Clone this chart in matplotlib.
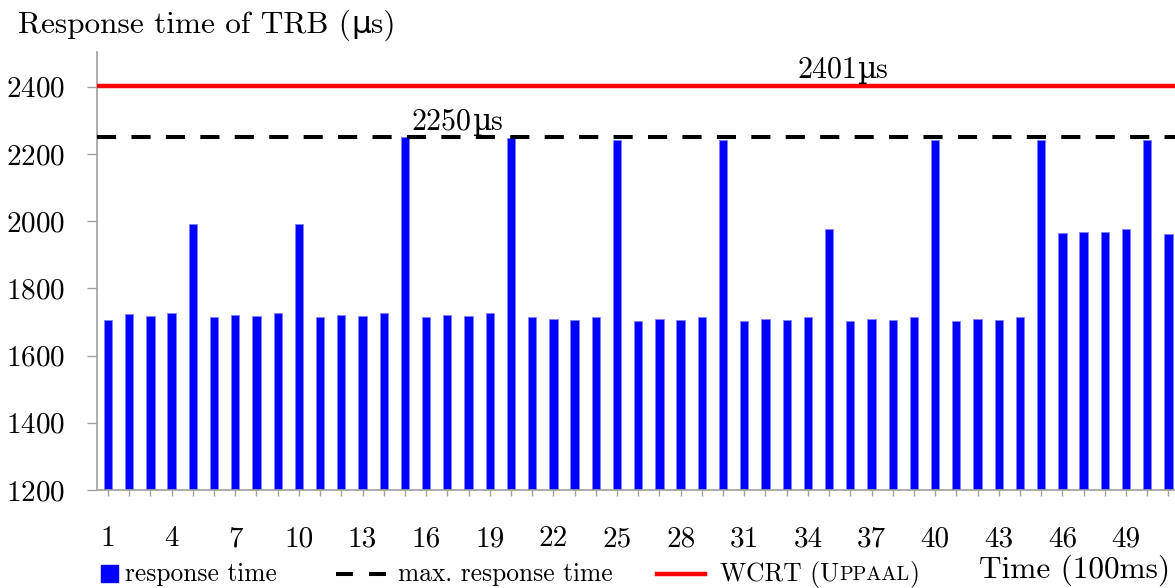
import numpy as np
import matplotlib
matplotlib.use("Agg")
import matplotlib.pyplot as plt
from matplotlib.lines import Line2D
from matplotlib.patches import Rectangle

plt.rcParams['font.family'] = ['cmr10', 'DejaVu Serif']
plt.rcParams['axes.formatter.use_mathtext'] = True

# response time per sample (µs)
t = np.arange(1, 52)
resp = np.array([
    1706, 1723, 1718, 1727, 1992, 1715, 1721, 1717, 1727, 1992,
    1714, 1720, 1718, 1727, 2250, 1715, 1721, 1718, 1727, 2246,
    1715, 1708, 1705, 1714, 2240, 1702, 1708, 1705, 1714, 2241,
    1702, 1708, 1705, 1714, 1976, 1702, 1708, 1705, 1714, 2240,
    1702, 1708, 1705, 1714, 2240, 1964, 1968, 1968, 1976, 2240,
    1963])
max_resp = 2250
wcrt = 2401
xtick_labels = [1, 4, 7, 10, 13, 16, 19, 22, 25, 28, 31, 34, 37, 40, 43, 46, 49]
yticks = [1200, 1400, 1600, 1800, 2000, 2200, 2400]

W, H = 1175, 588
fig = plt.figure(figsize=(W / 100, H / 100), dpi=100)
ax = fig.add_axes([97 / W, 1 - 490 / H, 1 - 97 / W, 438 / H])

ax.bar(t, resp - 1200, bottom=1200, width=0.39, color='#0000ff',
       edgecolor='#8080ff', linewidth=0.6, zorder=2)
ax.axhline(max_resp, color='black', lw=2.9, dashes=(4.75, 3.8), zorder=3)
ax.axhline(wcrt, color='#ff0000', lw=3.2, zorder=3)

ax.set_xlim(0.481, 51.31)
ax.set_ylim(1200, 2503)
ax.set_xticks(t)
ax.set_xticklabels([str(v) if v in xtick_labels else '' for v in t])
ax.set_yticks(yticks)
for s in ['top', 'right']:
    ax.spines[s].set_visible(False)
for s in ['left', 'bottom']:
    ax.spines[s].set_color('#a0a0a0')
    ax.spines[s].set_linewidth(1.2)
ax.tick_params(axis='x', length=4.3, width=1, color='#a0a0a0', pad=21.5, labelsize=21)
ax.tick_params(axis='y', length=7, width=1, color='#a0a0a0', pad=16, labelsize=21)

ax.set_xlabel('Time (100ms)', fontsize=22.5, ha='right', va='center')
ax.xaxis.set_label_coords(1 - 5 / 1078, -(570 - 490) / 438)

# overlay in pixel units for the title line and the legend row
lg = fig.add_axes([0, 0, 1, 1], facecolor='none')
lg.set_xlim(0, W)
lg.set_ylim(H, 0)
lg.axis('off')

fig.canvas.draw()
r = fig.canvas.get_renderer()


def chain(axes, x, y, parts):
    # write text pieces one after another on a shared baseline
    for s, fs, fam in parts:
        tx = axes.text(x, y, s, fontsize=fs, va='baseline', family=fam)
        bb = tx.get_window_extent(r)
        x = axes.transData.inverted().transform((bb.x1, bb.y0))[0]


cm = ['cmr10']
chain(lg, 18, 33, [('Response time of TRB (', 22.5, cm),
                   ('µ', 22.5, ['DejaVu Sans']), ('s)', 22.5, cm)])

chain(ax, 15.33, max_resp + 22, [(str(max_resp), 21.5, cm),
                                 ('µ', 21.5, ['DejaVu Serif']), ('s', 21.5, cm)])
chain(ax, 33.49, wcrt + 25, [(str(wcrt), 21.5, cm),
                             ('µ', 21.5, ['DejaVu Serif']), ('s', 21.5, cm)])

ly = 574
lg.add_patch(Rectangle((101, 565), 17, 17, color='#0000ff'))
lg.text(125, ly, 'response time', fontsize=18.3, va='center')
lg.add_line(Line2D([336, 386], [ly, ly], color='black', lw=2.9, dashes=(4.2, 4.0)))
lg.text(398, ly, 'max. response time', fontsize=18.3, va='center')
lg.add_line(Line2D([657, 705], [ly, ly], color='#ff0000', lw=3.2))
chain(lg, 720, ly + 6.5, [('WCRT (U', 18.3, cm), ('PPAAL', 14.5, cm), (')', 18.3, cm)])

fig.savefig('out.png', dpi=100)
